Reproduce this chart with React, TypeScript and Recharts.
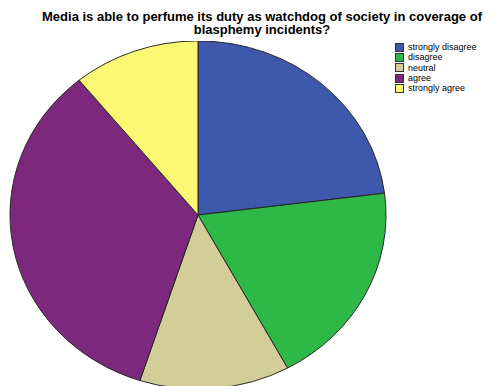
import { PieChart, Pie, Cell } from 'recharts';

const categories = ['strongly disagree', 'disagree', 'neutral', 'agree', 'strongly agree'];
const percents = [23.0, 19.1, 12.9, 34.1, 10.9];
const colors = ['#3E58AC', '#2EB848', '#D3CE97', '#7C287D', '#FBF873'];

const title = 'Media is able to perfume its duty as watchdog of society in coverage of blasphemy incidents?';

const data = categories.map((name, i) => ({ name, value: percents[i] }));

export default function App() {
    return (
        <div
            style={{
                position: 'absolute',
                left: 0,
                top: 0,
                width: 491,
                height: 386,
                overflow: 'hidden',
                background: '#fff',
                fontFamily: '"Liberation Sans", Arial, sans-serif',
            }}
        >
            {/* pie is slightly squashed vertically in the original */}
            <div
                style={{
                    position: 'absolute',
                    left: 0,
                    top: 27,
                    width: 396,
                    height: 376,
                    transform: 'scaleY(0.926)',
                    transformOrigin: '50% 50%',
                }}
            >
                <PieChart width={396} height={376} margin={{ top: 0, right: 0, bottom: 0, left: 0 }}>
                    <Pie
                        data={data}
                        dataKey="value"
                        nameKey="name"
                        cx={198}
                        cy={188}
                        outerRadius={188}
                        startAngle={90}
                        endAngle={-270}
                        stroke="#222"
                        strokeWidth={1}
                        isAnimationActive={false}
                    >
                        {data.map((d, i) => (
                            <Cell key={d.name} fill={colors[i]} />
                        ))}
                    </Pie>
                </PieChart>
            </div>

            <div
                style={{
                    position: 'absolute',
                    left: 32,
                    top: 10,
                    width: 460,
                    textAlign: 'center',
                    fontWeight: 'bold',
                    fontSize: 13,
                    lineHeight: '13px',
                    color: '#000',
                }}
            >
                {title}
            </div>

            <div style={{ position: 'absolute', left: 395, top: 42 }}>
                {categories.map((c, i) => (
                    <div key={c} style={{ display: 'flex', alignItems: 'center', height: 10.3 }}>
                        <span
                            style={{
                                display: 'inline-block',
                                width: 7,
                                height: 7,
                                background: colors[i],
                                border: '1px solid #333',
                                marginRight: 4,
                            }}
                        />
                        <span style={{ fontSize: 9, color: '#000', lineHeight: '10px' }}>{c}</span>
                    </div>
                ))}
            </div>
        </div>
    );
}
